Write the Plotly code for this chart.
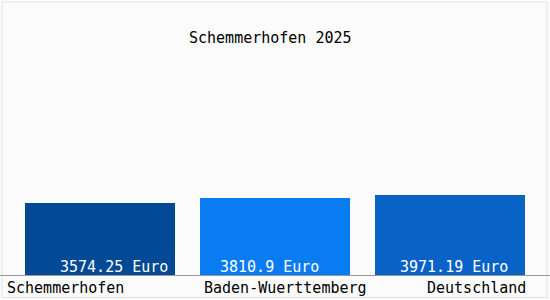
import plotly.graph_objects as go

categories = ["Schemmerhofen", "Baden-Wuerttemberg", "Deutschland"]
values = [3574.25, 3810.9, 3971.19]
value_labels = ["3574.25 Euro", "3810.9 Euro", "3971.19 Euro"]
title_text = "Schemmerhofen 2025"

colors = ["#034a96", "#0a7cf2", "#0963c6"]
FONT = "DejaVu Sans Mono"
W, H = 550, 300
PLOT_H = 275
PER_PX = 49.6

fig = go.Figure()
fig.add_trace(go.Bar(
    x=list(range(len(categories))), y=values,
    marker=dict(color=colors, line=dict(width=0)),
    width=150 / 175, hoverinfo="skip",
))

# value labels inside bars (pixel shifts measured from reference)
val_shift = [13.5, -6, 3.5]
for i, (v, t) in enumerate(zip(values, value_labels)):
    fig.add_annotation(x=i, y=0, text=t, showarrow=False, xanchor="center",
                       yanchor="bottom", xshift=val_shift[i], yshift=-3,
                       font=dict(family=FONT, size=15, color="white"))

# category labels
cat_pos = [(5 / W, "left"), (285 / W, "center"), (528 / W, "right")]
for c, (px, anc) in zip(categories, cat_pos):
    fig.add_annotation(x=px, xref="paper", y=0, yref="paper", text=c,
                       showarrow=False, xanchor=anc, yanchor="top", yshift=-2,
                       font=dict(family=FONT, size=15, color="black"))

fig.add_annotation(x=270 / W, xref="paper", y=(PLOT_H - 38) / PLOT_H, yref="paper",
                   text=title_text, showarrow=False, xanchor="center", yanchor="middle",
                   font=dict(family=FONT, size=15, color="black"))

# faint frame
fig.add_shape(type="rect", xref="paper", yref="paper",
              x0=2 / W, x1=547 / W, y0=(PLOT_H - 297.5) / PLOT_H, y1=(PLOT_H - 2) / PLOT_H,
              line=dict(color="#e4e4e4", width=1), layer="below")

fig.update_layout(
    width=W, height=H, margin=dict(l=0, r=0, t=0, b=H - PLOT_H),
    paper_bgcolor="#fbfbfb", plot_bgcolor="#fbfbfb", showlegend=False,
    bargap=0,
    xaxis=dict(range=[-100 / 175, 2 + 100 / 175], showticklabels=False, showgrid=False,
               zeroline=False, showline=True, linecolor="#999999", linewidth=1,
               fixedrange=True),
    yaxis=dict(range=[0, PLOT_H * PER_PX], visible=False, fixedrange=True),
)

fig.write_html("out.html", config={"displayModeBar": False})
